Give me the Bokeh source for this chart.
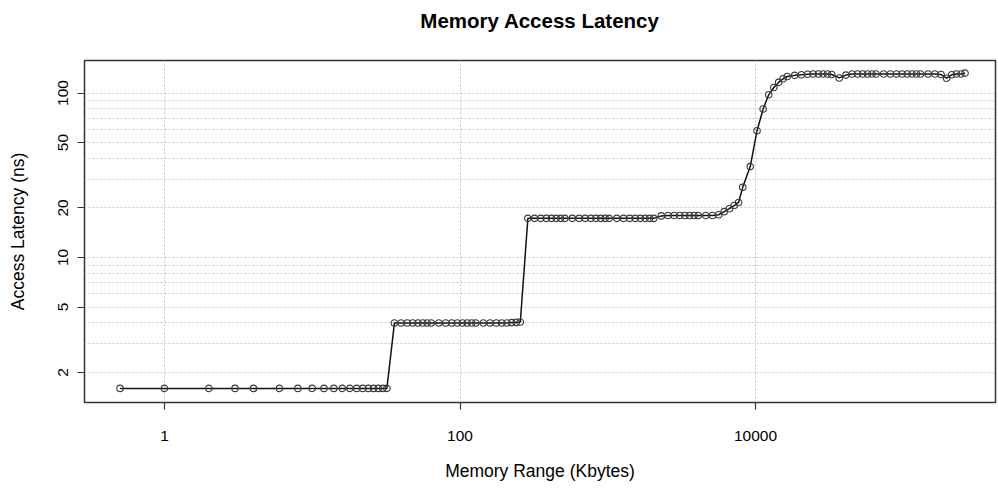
from bokeh.plotting import figure
from bokeh.models import Range1d, FixedTicker
from bokeh.embed import file_html
from bokeh.resources import INLINE

# Memory range in KB
size_kb = [0.5, 1, 2, 3, 4, 6, 8, 10, 12, 14, 16, 18, 20, 22, 24, 26, 28, 30, 32,
           36, 40, 44, 48, 52, 56, 60, 64,
           72, 80, 88, 96, 104, 112, 120, 128,
           144, 160, 176, 192, 208, 224, 240, 256,
           288, 320, 352, 384, 416, 448, 480, 512,
           576, 640, 704, 768, 832, 896, 960, 1024,
           1152, 1280, 1408, 1536, 1664, 1792, 1920, 2048,
           2304, 2560, 2816, 3072, 3328, 3584, 3840, 4096,
           4608, 5120, 5632, 6144, 6656, 7168, 7680, 8192,
           9216, 10240, 11264, 12288, 13312, 14336, 15360, 16384,
           18432, 20480, 22528, 24576, 26624, 28672, 30720, 32768,
           36864, 40960, 45056, 49152, 53248, 57344, 61440, 65536,
           73728, 81920, 90112, 98304, 106496, 114688, 122880, 131072,
           147456, 163840, 180224, 196608, 212992, 229376, 245760, 262144]

# Latency in ns
latency_ns = [1.6, 1.6, 1.6, 1.6, 1.6, 1.6, 1.6, 1.6, 1.6, 1.6, 1.6, 1.6, 1.6, 1.6, 1.6, 1.6, 1.6, 1.6, 1.6,
              4.0, 4.0, 4.0, 4.0, 4.0, 4.0, 4.0, 4.0,
              4.0, 4.0, 4.0, 4.0, 4.0, 4.0, 4.0, 4.0,
              4.0, 4.0, 4.0, 4.0, 4.0, 4.02, 4.03, 4.05,
              17.3, 17.3, 17.3, 17.3, 17.3, 17.3, 17.3, 17.3,
              17.3, 17.3, 17.3, 17.3, 17.3, 17.3, 17.3, 17.3,
              17.3, 17.3, 17.3, 17.3, 17.3, 17.3, 17.3, 17.3,
              17.9, 18.0, 18.0, 18.0, 18.0, 18.0, 18.0, 18.0,
              18.0, 18.0, 18.2, 19.0, 19.8, 20.7, 21.6, 26.7,
              35.7, 59.0, 80.0, 97.5, 108.0, 116.0, 122.0, 126.0,
              128.0, 129.0, 130.0, 130.5, 130.5, 130.5, 130.5, 129.5,
              123.5, 128.5, 130.5, 130.5, 130.5, 130.5, 130.5, 130.5,
              130.5, 130.5, 130.5, 130.5, 130.5, 130.5, 130.5, 130.5,
              130.5, 130.5, 129.5, 123.0, 129.0, 130.5, 130.5, 132.0]

x_ticks = [1, 100, 10000]
y_ticks = [2, 5, 10, 20, 50, 100]
y_grid = [2, 3, 4, 5, 6, 7, 8, 9, 10, 20, 30, 40, 50, 60, 70, 80, 90, 100]
title_text = "Memory Access Latency"

FONT = "Liberation Sans"

X_LO, X_HI = -0.5415, 5.6244
Y_LO, Y_HI = 0.1185, 2.1976

p = figure(width=998, height=491, x_axis_type="log", y_axis_type="log",
           x_range=Range1d(10 ** X_LO, 10 ** X_HI),
           y_range=Range1d(10 ** Y_LO, 10 ** Y_HI),
           output_backend="svg", toolbar_location=None,
           min_border_left=84, min_border_right=3, min_border_top=60, min_border_bottom=89,
           title=title_text + "\n ")

p.title.align = "center"
p.title.vertical_align = "bottom"
p.title.text_font = FONT
p.title.text_font_size = "20.5px"
p.title.text_font_style = "bold"
p.title.text_color = "black"
p.title.standoff = 12

p.background_fill_color = "white"
p.border_fill_color = "white"
p.outline_line_color = "#333333"
p.outline_line_width = 1.5

for ax in (p.xaxis[0], p.yaxis[0]):
    ax.axis_line_color = None
    ax.major_tick_line_color = "#333333"
    ax.major_tick_line_width = 1.2
    ax.major_tick_in = 0
    ax.major_tick_out = 7
    ax.minor_tick_line_color = None
    ax.major_label_text_font = FONT
    ax.major_label_text_font_size = "15.5px"
    ax.major_label_text_color = "black"
    ax.axis_label_text_font = FONT
    ax.axis_label_text_font_size = "17.5px"
    ax.axis_label_text_font_style = "normal"
    ax.axis_label_text_color = "black"

p.xaxis.ticker = FixedTicker(ticks=x_ticks)
p.xaxis.major_label_overrides = {1: "1", 100: "100", 10000: "10000"}
p.xaxis.axis_label = "Memory Range (Kbytes)"
p.xaxis.major_label_standoff = 21
p.xaxis.axis_label_standoff = 17

p.yaxis.ticker = FixedTicker(ticks=y_ticks)
p.yaxis.major_label_overrides = {2: "2", 5: "5", 10: "10", 20: "20", 50: "50", 100: "100"}
p.yaxis.major_label_orientation = "vertical"
p.yaxis.axis_label = "Access Latency (ns)"
p.yaxis.major_label_standoff = 9
p.yaxis.axis_label_standoff = 28

p.xgrid.ticker = FixedTicker(ticks=x_ticks)
p.ygrid.ticker = FixedTicker(ticks=y_grid)
for g in (p.xgrid[0], p.ygrid[0]):
    g.grid_line_color = "#c8c8c8"
    g.grid_line_dash = "2 2"
    g.grid_line_width = 1

p.line(size_kb, latency_ns, line_color="#111111", line_width=1.5)
p.scatter(size_kb, latency_ns, marker="circle", size=6.5, fill_color=None,
          line_color="#3a3a3a", line_width=1.1)

open("out.html", "w").write(file_html(p, INLINE))
